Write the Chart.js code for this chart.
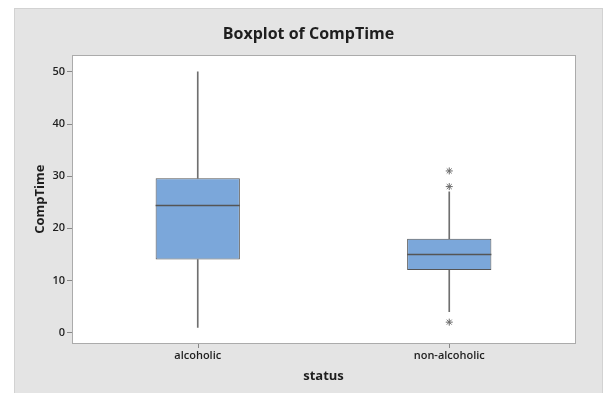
<!DOCTYPE html>
<html>
<head>
<meta charset="utf-8">
<script src="https://cdn.jsdelivr.net/npm/chart.js@4/dist/chart.umd.min.js"></script>
<style>
  html, body { margin: 0; padding: 0; background: #fff; }
  #panel {
    position: absolute; left: 14px; top: 8px; width: 587px; height: 385px;
    background: #e4e4e4; border: 1px solid #d2d2d2; border-bottom: none;
  }
  #chart { display: block; }
</style>
</head>
<body>
<div id="panel"><canvas id="chart" width="587" height="385"></canvas></div>
<script>
"use strict";

const categories = ["alcoholic", "non-alcoholic"];
const whiskerLow = [1, 4];
const q1 = [14, 12];
const median = [24.5, 15];
const q3 = [29.6, 18];
const whiskerHigh = [50, 27];
const outlierCats = ["non-alcoholic", "non-alcoholic", "non-alcoholic"];
const outlierVals = [31, 28, 2];
const yTicks = [0, 10, 20, 30, 40, 50];

const COLORS = {
  box: "#7ba7da",
  boxEdge: "#555555",
  whisker: "#6f6f6f",
  frame: "#ababab",
  tick: "#888888",
  text: "#1e1e1e",
};

const FONT = "'Open Sans', 'Noto Sans', sans-serif";

// white plot area, median lines, frame round the plot, x tick marks
const boxExtras = {
  id: "boxExtras",
  beforeDraw(chart) {
    const a = chart.chartArea;
    chart.ctx.save();
    chart.ctx.fillStyle = "#ffffff";
    chart.ctx.fillRect(a.left, a.top, a.right - a.left, a.bottom - a.top);
    chart.ctx.restore();
  },
  afterDatasetsDraw(chart) {
    const ctx = chart.ctx;
    const y = chart.scales.y;
    const x = chart.scales.x;
    const meta = chart.getDatasetMeta(2);
    ctx.save();
    ctx.strokeStyle = COLORS.boxEdge;
    ctx.lineWidth = 1.5;
    meta.data.forEach((bar, i) => {
      const py = Math.round(y.getPixelForValue(median[i])) + 0.5;
      ctx.beginPath();
      ctx.moveTo(bar.x - bar.width / 2, py);
      ctx.lineTo(bar.x + bar.width / 2, py);
      ctx.stroke();
    });
    const a = chart.chartArea;
    ctx.strokeStyle = COLORS.frame;
    ctx.lineWidth = 1;
    ctx.strokeRect(Math.round(a.left) + 0.5, Math.round(a.top) + 0.5,
      Math.round(a.right - a.left), Math.round(a.bottom - a.top));
    ctx.strokeStyle = COLORS.tick;
    x.ticks.forEach((t, i) => {
      const px = Math.round(x.getPixelForTick(i)) + 0.5;
      ctx.beginPath();
      ctx.moveTo(px, Math.round(a.bottom) + 1);
      ctx.lineTo(px, Math.round(a.bottom) + 5);
      ctx.stroke();
    });
    ctx.restore();
  },
};

const tickFont = { family: FONT, size: 11, weight: "600" };
const titleFont = { family: FONT, size: 13, weight: "bold" };

new Chart(document.getElementById("chart"), {
  type: "bar",
  data: {
    labels: categories,
    datasets: [
      {
        data: categories.map((c, i) => [whiskerLow[i], q1[i]]),
        backgroundColor: COLORS.whisker,
        barThickness: 1,
        grouped: false,
        order: 3,
      },
      {
        data: categories.map((c, i) => [q3[i], whiskerHigh[i]]),
        backgroundColor: COLORS.whisker,
        barThickness: 1,
        grouped: false,
        order: 3,
      },
      {
        data: categories.map((c, i) => [q1[i], q3[i]]),
        backgroundColor: COLORS.box,
        borderColor: COLORS.boxEdge,
        borderWidth: 1,
        borderSkipped: false,
        grouped: false,
        categoryPercentage: 1,
        barPercentage: 0.335,
        order: 2,
      },
      {
        type: "line",
        data: outlierVals.map((v, i) => ({ x: outlierCats[i], y: v })),
        showLine: false,
        pointStyle: "star",
        pointRadius: 3.5,
        borderColor: "#6a6a6a",
        borderWidth: 1,
        order: 1,
      },
    ],
  },
  options: {
    responsive: false,
    animation: false,
    layout: { padding: 0 },
    plugins: {
      legend: { display: false },
      tooltip: { enabled: false },
      title: {
        display: true,
        text: "Boxplot of CompTime",
        color: COLORS.text,
        font: { family: FONT, size: 16, weight: "bold" },
        padding: { top: 16, bottom: 11 },
      },
    },
    scales: {
      x: {
        afterFit: (s) => { s.height = 51; },
        grid: { display: false, drawTicks: false },
        border: { display: false },
        ticks: { color: COLORS.text, font: tickFont, padding: 6 },
        title: {
          display: true,
          text: "status",
          color: COLORS.text,
          font: titleFont,
          padding: { top: 0, bottom: 10 },
        },
      },
      y: {
        min: -2,
        max: 53.2,
        afterFit: (s) => { s.width = 57; },
        afterBuildTicks: (s) => { s.ticks = yTicks.map((v) => ({ value: v })); },
        grid: { drawOnChartArea: false, drawTicks: true, tickLength: 5, color: COLORS.tick },
        border: { display: false },
        ticks: { color: COLORS.text, font: tickFont, padding: 2 },
        title: {
          display: true,
          text: "CompTime",
          color: COLORS.text,
          font: titleFont,
          padding: { top: 17, bottom: 0 },
        },
      },
      // empty right-hand axis, only keeps the gap on the right
      yRight: {
        position: "right",
        afterFit: (s) => { s.width = 27; },
        grid: { display: false },
        border: { display: false },
        ticks: { display: false },
      },
    },
  },
  plugins: [boxExtras],
});
</script>
</body>
</html>
